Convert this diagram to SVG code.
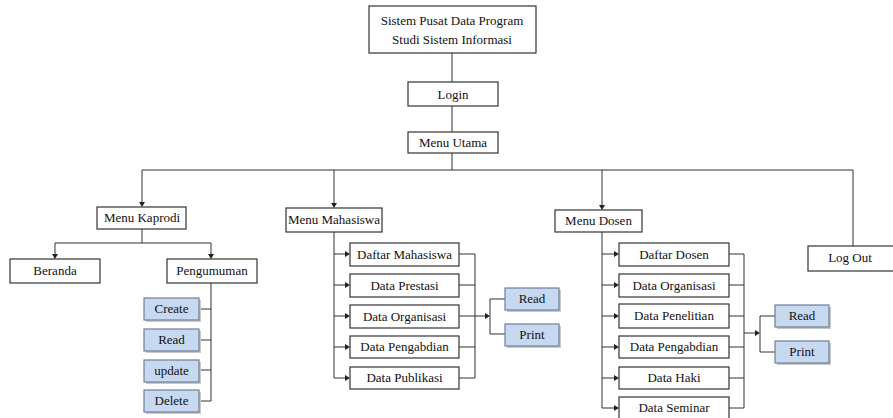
<svg xmlns="http://www.w3.org/2000/svg" width="893" height="418" viewBox="0 0 893 418">
<style>
.box{fill:#fff;stroke:#333;stroke-width:1.2}
.bbox{fill:#c6d9f1;stroke:#6f7f96;stroke-width:1.2}
.shadow{fill:#c8c8c8}
.ln{fill:none;stroke:#333;stroke-width:1}
.ah{fill:#222}
.t{font-family:'Liberation Serif';font-size:13px;text-anchor:middle;fill:#111}
</style>
<rect width="893" height="418" fill="#fff"/>

<g id="connectors">
<path class="ln" d="M452,53 V82 M452,106 V132 M452,153 V170"/>
<path class="ln" d="M142,170 H853 V246 M142,170 V203 M334,170 V204 M602,170 V206"/>
<polygon class="ah" points="139,202 145,202 142,207"/>
<polygon class="ah" points="331,203 337,203 334,208"/>
<polygon class="ah" points="599,205 605,205 602,210"/>
<path class="ln" d="M142,229 V243 M55,243 H211 M55,243 V255 M211,243 V255"/>
<polygon class="ah" points="52,254 58,254 55,259"/>
<polygon class="ah" points="208,254 214,254 211,259"/>
<path class="ln" d="M211,283 V401 M199,309 H211 M199,340 H211 M199,370 H211 M199,401 H211"/>
<path class="ln" d="M334,232 V378 M334,254 H346 M334,285 H346 M334,316 H346 M334,347 H346 M334,378 H346"/>
<polygon class="ah" points="345,251 345,257 350,254"/>
<polygon class="ah" points="345,282 345,288 350,285"/>
<polygon class="ah" points="345,313 345,319 350,316"/>
<polygon class="ah" points="345,344 345,350 350,347"/>
<polygon class="ah" points="345,375 345,381 350,378"/>
<path class="ln" d="M459,254 H475 V378 M459,285 H475 M459,347 H475 M459,378 H475 M459,316 H486"/>
<polygon class="ah" points="485,313 485,319 490,316"/>
<path class="ln" d="M490,299 V334 M490,299 H505 M490,334 H505"/>
<path class="ln" d="M602,232 V408 M602,254 H615 M602,285 H615 M602,316 H615 M602,347 H615 M602,378 H615 M602,408 H615"/>
<polygon class="ah" points="614,251 614,257 619,254"/>
<polygon class="ah" points="614,282 614,288 619,285"/>
<polygon class="ah" points="614,313 614,319 619,316"/>
<polygon class="ah" points="614,344 614,350 619,347"/>
<polygon class="ah" points="614,375 614,381 619,378"/>
<polygon class="ah" points="614,405 614,411 619,408"/>
<path class="ln" d="M729,254 H744 V408 M729,285 H744 M729,316 H744 M729,347 H744 M729,378 H744 M729,408 H744 M744,333 H756"/>
<polygon class="ah" points="755,330 755,336 760,333"/>
<path class="ln" d="M760,316 V352 M760,316 H775 M760,352 H775"/>
</g>

<g id="n-sistem"><rect class="box" x="369" y="6" width="167" height="47"/><text class="t" x="452" y="25">Sistem Pusat Data Program</text><text class="t" x="452" y="44">Studi Sistem Informasi</text></g>
<g id="n-login"><rect class="box" x="408" y="82" width="90" height="24"/><text class="t" x="453" y="98.5">Login</text></g>
<g id="n-menu-utama"><rect class="box" x="408" y="132" width="90" height="21"/><text class="t" x="453" y="147">Menu Utama</text></g>

<g id="n-kaprodi"><rect class="box" x="97" y="207" width="89" height="22"/><text class="t" x="142" y="222">Menu Kaprodi</text></g>
<g id="n-beranda"><rect class="box" x="10" y="259" width="90" height="24"/><text class="t" x="55" y="275">Beranda</text></g>
<g id="n-pengumuman"><rect class="box" x="167" y="259" width="90" height="24"/><text class="t" x="212" y="275">Pengumuman</text></g>
<g id="n-create"><rect class="shadow" x="146" y="300" width="55" height="22"/><rect class="bbox" x="144" y="298" width="55" height="22"/><text class="t" x="171.5" y="313">Create</text></g>
<g id="n-read1"><rect class="shadow" x="146" y="331" width="55" height="22"/><rect class="bbox" x="144" y="329" width="55" height="22"/><text class="t" x="171.5" y="344">Read</text></g>
<g id="n-update"><rect class="shadow" x="146" y="362" width="55" height="22"/><rect class="bbox" x="144" y="360" width="55" height="22"/><text class="t" x="171.5" y="375">update</text></g>
<g id="n-delete"><rect class="shadow" x="146" y="392" width="55" height="22"/><rect class="bbox" x="144" y="390" width="55" height="22"/><text class="t" x="171.5" y="405">Delete</text></g>

<g id="n-mahasiswa"><rect class="box" x="286" y="208" width="96" height="24"/><text class="t" x="334" y="224">Menu Mahasiswa</text></g>
<g id="n-daftar-mhs"><rect class="box" x="350" y="243" width="109" height="23"/><text class="t" x="404.5" y="258.5">Daftar Mahasiswa</text></g>
<g id="n-prestasi"><rect class="box" x="350" y="274" width="109" height="23"/><text class="t" x="404.5" y="289.5">Data Prestasi</text></g>
<g id="n-organisasi1"><rect class="box" x="350" y="305" width="109" height="23"/><text class="t" x="404.5" y="320.5">Data Organisasi</text></g>
<g id="n-pengabdian1"><rect class="box" x="350" y="336" width="109" height="22"/><text class="t" x="404.5" y="351">Data Pengabdian</text></g>
<g id="n-publikasi"><rect class="box" x="350" y="367" width="109" height="22"/><text class="t" x="404.5" y="382">Data Publikasi</text></g>
<g id="n-read2"><rect class="shadow" x="507" y="290" width="54" height="22"/><rect class="bbox" x="505" y="288" width="54" height="22"/><text class="t" x="532" y="303">Read</text></g>
<g id="n-print1"><rect class="shadow" x="507" y="326" width="54" height="22"/><rect class="bbox" x="505" y="324" width="54" height="22"/><text class="t" x="532" y="339">Print</text></g>

<g id="n-dosen"><rect class="box" x="555" y="210" width="87" height="22"/><text class="t" x="598.5" y="225">Menu Dosen</text></g>
<g id="n-daftar-dosen"><rect class="box" x="619" y="243" width="110" height="23"/><text class="t" x="674" y="258.5">Daftar Dosen</text></g>
<g id="n-organisasi2"><rect class="box" x="619" y="274" width="110" height="23"/><text class="t" x="674" y="289.5">Data Organisasi</text></g>
<g id="n-penelitian"><rect class="box" x="619" y="304" width="110" height="24"/><text class="t" x="674" y="320">Data Penelitian</text></g>
<g id="n-pengabdian2"><rect class="box" x="619" y="336" width="110" height="22"/><text class="t" x="674" y="351">Data Pengabdian</text></g>
<g id="n-haki"><rect class="box" x="619" y="367" width="110" height="22"/><text class="t" x="674" y="382">Data Haki</text></g>
<g id="n-seminar"><rect class="box" x="619" y="397" width="110" height="25"/><text class="t" x="674" y="412">Data Seminar</text></g>
<g id="n-read3"><rect class="shadow" x="777" y="307" width="54" height="22"/><rect class="bbox" x="775" y="305" width="54" height="22"/><text class="t" x="802" y="320">Read</text></g>
<g id="n-print2"><rect class="shadow" x="777" y="343" width="54" height="22"/><rect class="bbox" x="775" y="341" width="54" height="22"/><text class="t" x="802" y="356">Print</text></g>

<g id="n-logout"><rect class="box" x="808" y="246" width="90" height="25"/><text class="t" x="850" y="262">Log Out</text></g>
</svg>
